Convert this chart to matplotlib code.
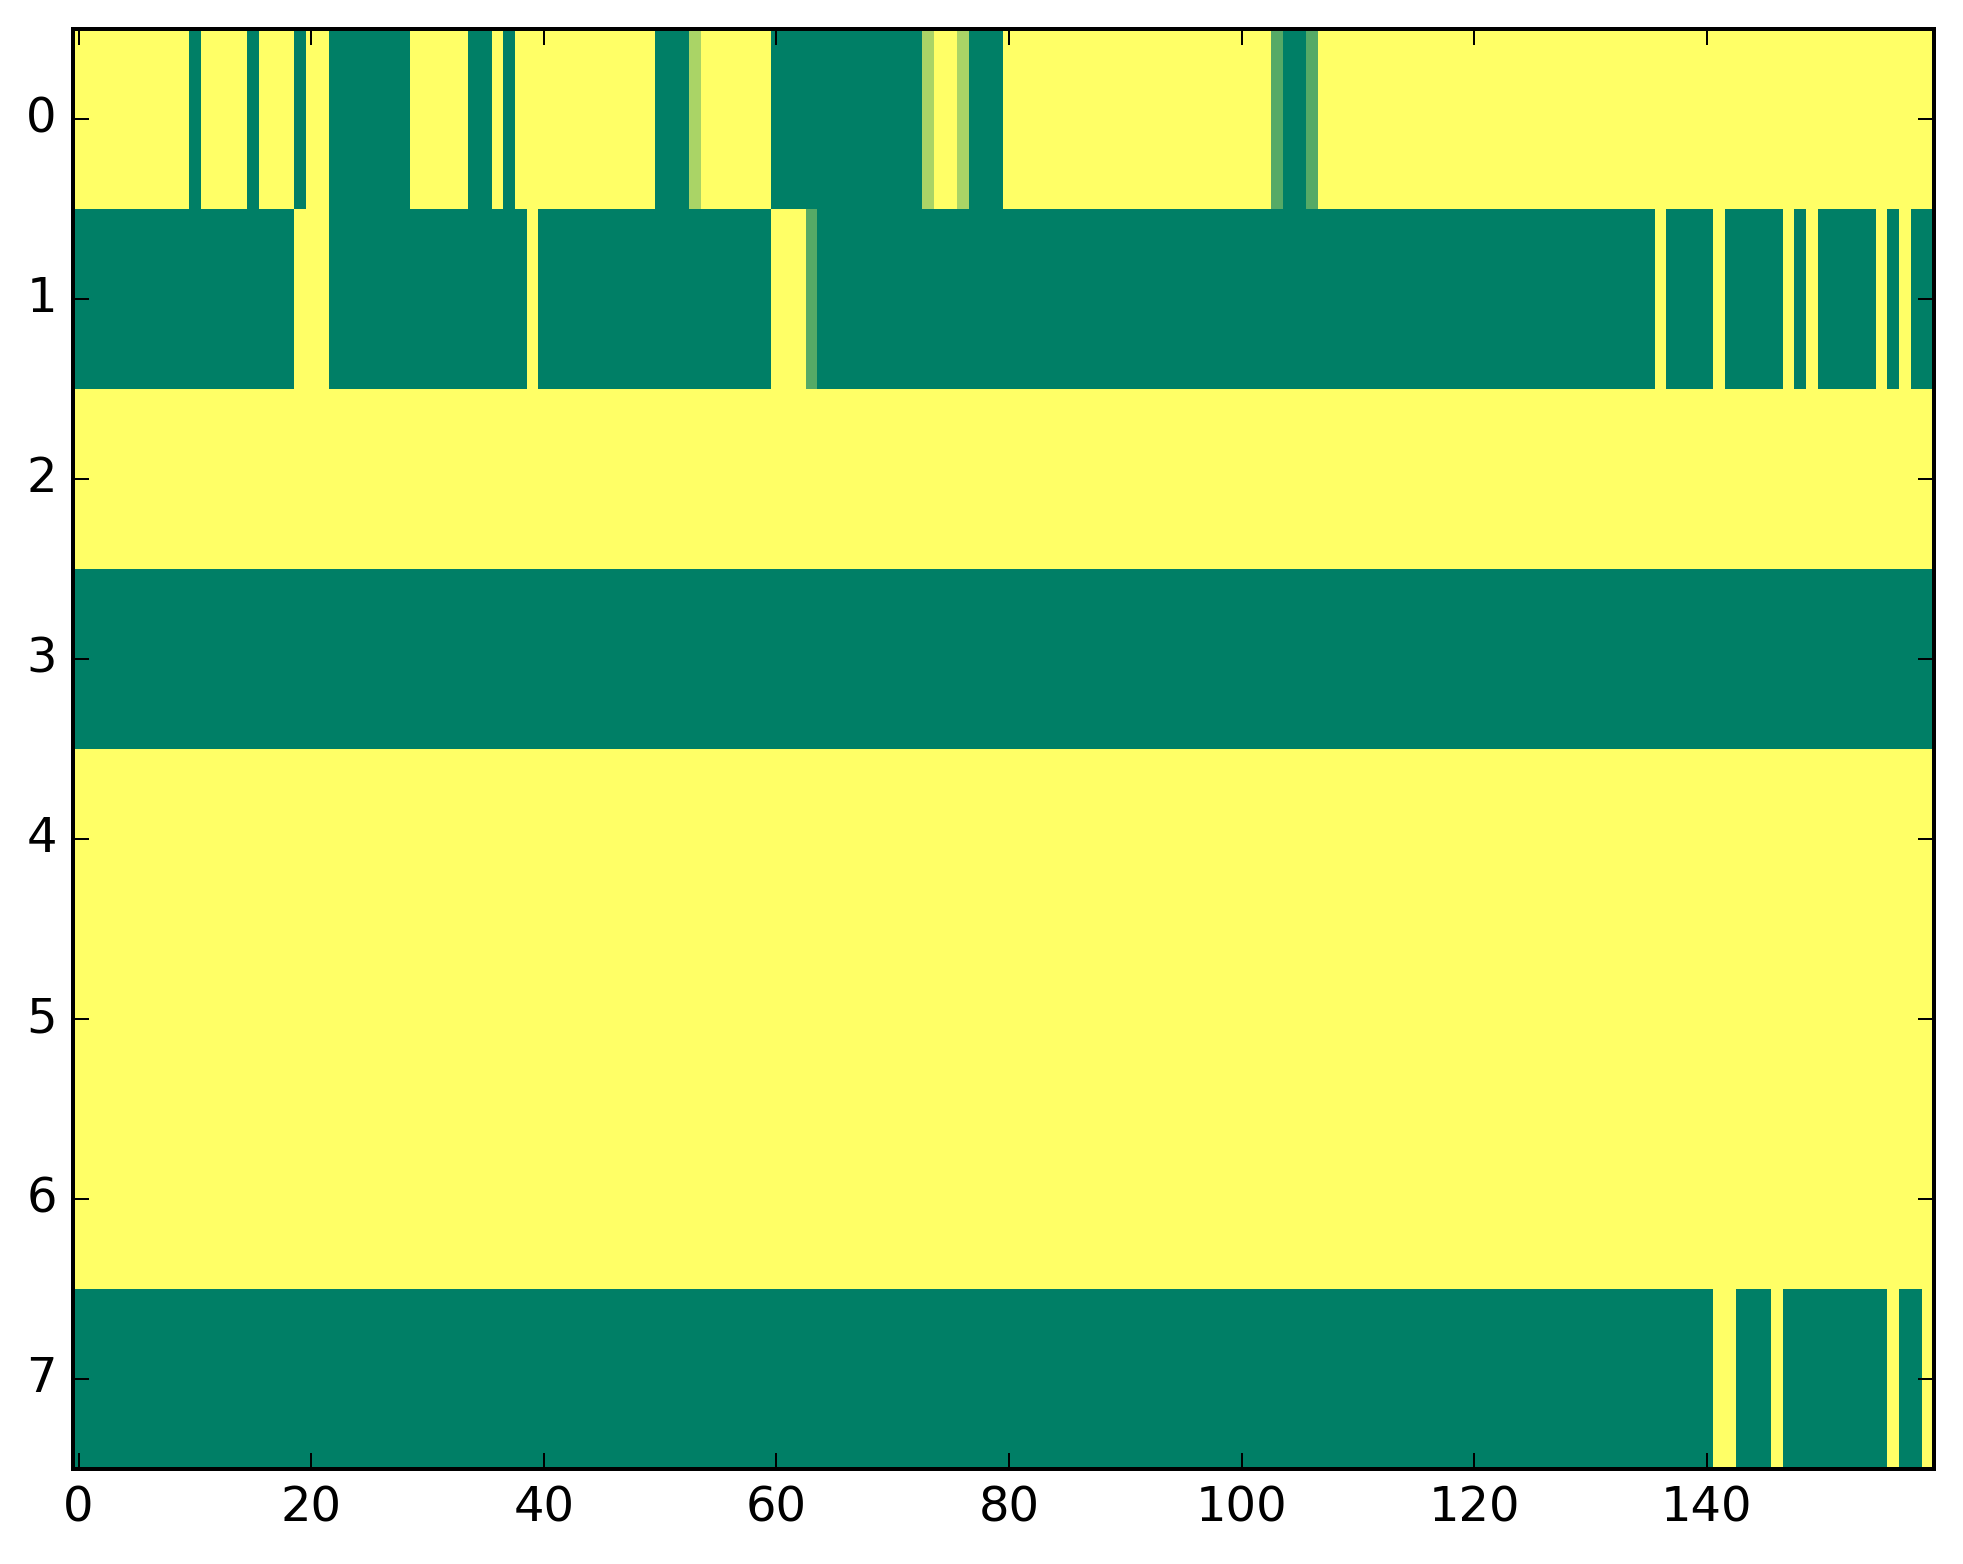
import numpy as np
import matplotlib
matplotlib.use("Agg")
import matplotlib.pyplot as plt

plt.style.use("classic")

# each row as runs of (value, number of columns); 0 = green, 1 = yellow
row0_runs = [(1, 10), (0, 1), (1, 4), (0, 1), (1, 3), (0, 1), (1, 2), (0, 7),
             (1, 5), (0, 2), (1, 1), (0, 1), (1, 12), (0, 3), (2 / 3, 1), (1, 6),
             (0, 13), (2 / 3, 1), (1, 2), (2 / 3, 1), (0, 3), (1, 23), (1 / 3, 1),
             (0, 2), (1 / 3, 1), (1, 53)]
row1_runs = [(0, 19), (1, 3), (0, 17), (1, 1), (0, 20), (1, 3), (1 / 3, 1),
             (0, 72), (1, 1), (0, 4), (1, 1), (0, 5), (1, 1), (0, 1), (1, 1),
             (0, 5), (1, 1), (0, 1), (1, 1), (0, 2)]
row2_runs = [(1, 160)]
row3_runs = [(0, 160)]
row4_runs = [(1, 160)]
row5_runs = [(1, 160)]
row6_runs = [(1, 160)]
row7_runs = [(0, 141), (1, 2), (0, 3), (1, 1), (0, 9), (1, 1), (0, 2), (1, 1)]

all_rows = [row0_runs, row1_runs, row2_runs, row3_runs,
            row4_runs, row5_runs, row6_runs, row7_runs]


def expand(runs):
    vals = [v for v, n in runs]
    counts = [n for v, n in runs]
    return np.repeat(vals, counts)


grid = np.vstack([expand(r) for r in all_rows])

dpi = 288
fig = plt.figure(figsize=(1963 / dpi, 1564 / dpi), dpi=dpi, facecolor="white")
ax = fig.add_axes([72.8 / 1963, 1 - 1468.7 / 1564,
                   (1933.7 - 72.8) / 1963, (1468.7 - 29) / 1564])
ax.imshow(grid, cmap="summer", vmin=0, vmax=1, aspect="auto",
          interpolation="nearest")
ax.set_xticks(np.arange(0, 160, 20))
ax.set_yticks(np.arange(0, 8))
ax.tick_params(labelsize=12)

fig.savefig("out.png", dpi=dpi, facecolor="white")
